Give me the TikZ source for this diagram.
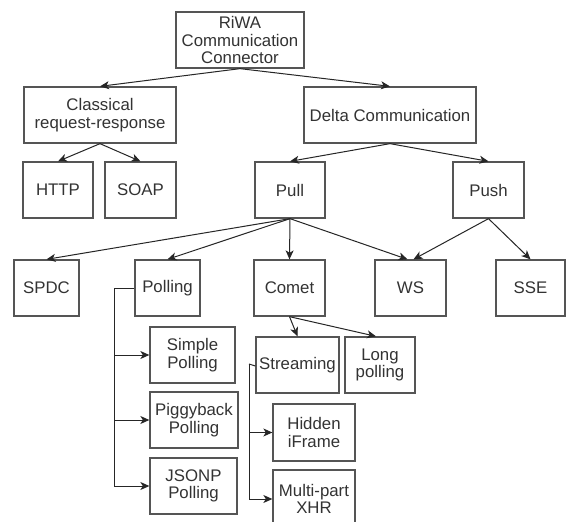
\documentclass[tikz,border=0pt]{standalone}
\usepackage{fontspec}
\setmainfont{Liberation Sans}
\usetikzlibrary{arrows.meta}
\definecolor{boxc}{HTML}{555555}
\definecolor{txtc}{HTML}{333333}
\definecolor{arrc}{HTML}{262626}
\tikzset{
  box/.style={draw=boxc, line width=1.3pt, rectangle, inner sep=0pt, align=center,
    text=txtc, font=\fontsize{16.8}{17.5}\selectfont, minimum height=56pt},
  conn/.style={draw=arrc, line width=1pt, -{Stealth[length=9pt,width=8pt,inset=2.5pt]}},
  plain/.style={draw=arrc, line width=1pt}
}
\begin{document}
\begin{tikzpicture}[x=1pt,y=-1pt]
\clip (0,0) rectangle (566,522);
\fill[white] (0,0) rectangle (566,522);
% level 0
\node[box, minimum width=128pt] (riwa) at (240,40) {RiWA\\Communication\\Connector};
% level 1
\node[box, minimum width=152pt] (classical) at (100,115) {Classical\\request-response};
\node[box, minimum width=172pt] (delta) at (390,115) {Delta Communication};
% level 2
\node[box, minimum width=70pt] (http) at (58,190) {HTTP};
\node[box, minimum width=71pt] (soap) at (140.5,190) {SOAP};
\node[box, minimum width=70pt] (pull) at (290,190) {Pull};
\node[box, minimum width=71pt] (push) at (488.5,190) {Push};
% level 3
\node[box, minimum width=65pt] (spdc) at (46.5,288) {SPDC};
\node[box, minimum width=65pt] (polling) at (167.5,288) {Polling};
\node[box, minimum width=71pt] (comet) at (289.5,288) {Comet};
\node[box, minimum width=71pt] (ws) at (410.5,288) {WS};
\node[box, minimum width=69pt] (sse) at (530.5,288) {SSE};
% polling children
\node[box, minimum width=85pt] (simple) at (192.5,355) {Simple\\Polling};
\node[box, minimum width=88pt] (piggy) at (194,420) {Piggyback\\Polling};
\node[box, minimum width=87pt] (jsonp) at (193.5,486) {JSONP\\Polling};
% comet children
\node[box, minimum width=83pt] (streaming) at (297.5,365) {Streaming};
\node[box, minimum width=70pt] (long) at (380,365) {Long\\polling};
% streaming children
\node[box, minimum width=82pt, minimum height=57pt] (hidden) at (314,432.5) {Hidden\\iFrame};
\node[box, minimum width=82pt, minimum height=58pt] (multi) at (314,499) {Multi-part\\XHR};

% connectors
\draw[conn] (riwa.south) -- (classical.north);
\draw[conn] (riwa.south) -- (delta.north);
\draw[conn] (classical.south) -- (http.north);
\draw[conn] (classical.south) -- (soap.north);
\draw[conn] (delta.south) -- (pull.north);
\draw[conn] (delta.south) -- (push.north);
\draw[conn] (pull.south) -- (spdc.north);
\draw[conn] (pull.south) -- (polling.north);
\draw[conn] (pull.south) -- (comet.north);
\draw[conn] (pull.south) -- ([xshift=-3pt]ws.north);
\draw[conn] (push.south) -- ([xshift=3pt]ws.north);
\draw[conn] (push.south) -- (sse.north);
\draw[conn] (comet.south) -- (streaming.north);
\draw[conn] (comet.south) -- ([xshift=-4pt]long.north);

% polling bracket
\coordinate (pb) at (114,288);
\draw[plain] (polling.west) -- (pb);
\draw[conn] (pb) |- (jsonp.west);
\draw[conn] (pb |- simple.west) -- (simple.west);
\draw[conn] (pb |- piggy.west) -- (piggy.west);

% streaming bracket
\coordinate (sb) at (249,364);
\draw[plain] ([yshift=-1pt]streaming.west) -- (sb);
\draw[conn] (sb) |- (multi.west);
\draw[conn] (sb |- hidden.west) -- (hidden.west);
\end{tikzpicture}
\end{document}
